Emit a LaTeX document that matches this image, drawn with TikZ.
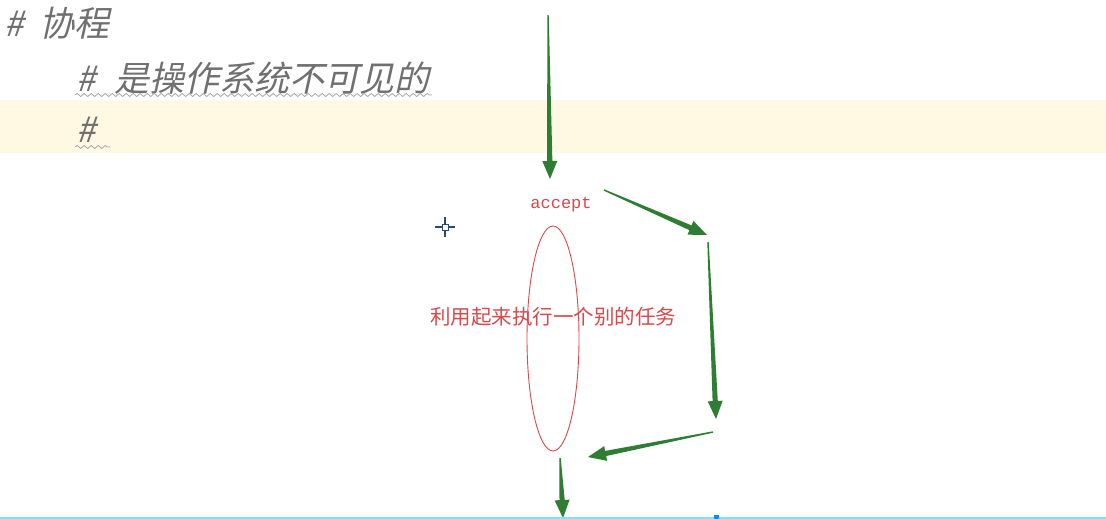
\documentclass[tikz,border=0pt]{standalone}
\usepackage{fontspec}
\usetikzlibrary{calc,decorations.pathmorphing,shapes.geometric}
\newfontfamily\cjk{Noto Sans CJK SC}
\newfontfamily\cjkslant[FakeSlant=0.22]{Noto Sans CJK SC}
\newfontfamily\monofnt{Liberation Mono}
\definecolor{arrgreen}{HTML}{2E7D32}
\definecolor{cmtgray}{HTML}{707070}
\definecolor{wavegray}{HTML}{A8A8A8}
\definecolor{bandyellow}{HTML}{FFF8E3}
\definecolor{inkred}{HTML}{D9484A}
\definecolor{cursorblue}{HTML}{2C4A6B}
\definecolor{lineblue}{HTML}{8ADDF2}
\definecolor{markblue}{HTML}{1E88E5}
\tikzset{
  comment/.style={text=cmtgray,font=\cjkslant\fontsize{35}{35}\selectfont,inner sep=0pt,anchor=west},
  wavy/.style={draw=wavegray,line width=0.8pt,decorate,decoration={snake,segment length=7pt,amplitude=1.5pt}},
  redtext/.style={text=inkred,inner sep=0pt},
  loop/.style={draw=inkred,line width=0.9pt},
  cursor/.style={draw=cursorblue,line width=1.3pt}
}
\newcommand\taper[2]{%
  \coordinate (tH) at ($(#2)!18pt!(#1)$);
  \fill[arrgreen] ($(#1)!0.7pt!90:(#2)$) -- ($(tH)!2.6pt!90:(#2)$) -- ($(tH)!7.5pt!90:(#2)$) -- (#2)
    -- ($(tH)!7.5pt!-90:(#2)$) -- ($(tH)!2.6pt!-90:(#2)$) -- ($(#1)!0.7pt!-90:(#2)$) -- cycle;}
\begin{document}
\begin{tikzpicture}[x=1pt,y=-1pt]
\useasboundingbox (0,0) rectangle (1106,519);
\fill[white] (0,0) rectangle (1106,519);
\fill[bandyellow] (0,100) rectangle (1106,153);
% comment lines
\node[comment] (l1) at (4,23) {\#\hspace{16pt}协程};
\node[comment] (l2) at (76,78) {\#\hspace{19pt}是操作系统不可见的};
\node[comment] (l3) at (76,130) {\#};
\draw[wavy] (75,95) -- (432,95);
\draw[wavy] (75,147) -- (110,147);
% labels
\node[redtext,font=\monofnt\fontsize{17}{17}\selectfont] (acc) at (561,205) {accept};
\node[loop,ellipse,draw,minimum width=52pt,minimum height=225pt,inner sep=0pt] (ell) at (553,338.5) {};
\node[redtext,font=\cjk\fontsize{20.5}{20.5}\selectfont] (task) at (553,317) {利用起来执行一个别的任务};
% arrow coordinates
\coordinate (a1s) at (548,15);  \coordinate (a1e) at (550,179);
\coordinate (a2s) at (604,190); \coordinate (a2e) at (707,235);
\coordinate (a3s) at (708,242); \coordinate (a3e) at (716,419);
\coordinate (a4s) at (713,432); \coordinate (a4e) at (588,457);
\coordinate (a5s) at (560,458); \coordinate (a5e) at (563,518);
\taper{a1s}{a1e}
\taper{a2s}{a2e}
\taper{a3s}{a3e}
\taper{a4s}{a4e}
\taper{a5s}{a5e}
% cursor
\coordinate (cur) at (445,227);
\draw[cursor] ($(cur)+(-10,0)$) -- ($(cur)+(-3,0)$) ($(cur)+(3,0)$) -- ($(cur)+(10,0)$)
  ($(cur)+(0,-10)$) -- ($(cur)+(0,-3)$) ($(cur)+(0,3)$) -- ($(cur)+(0,10)$);
\draw[cursor,line width=1pt] ($(cur)+(-3,-3)$) rectangle ($(cur)+(3,3)$);
% bottom line
\fill[lineblue] (0,516.5) rectangle (1106,519);
\fill[markblue] (714,514.5) rectangle (719,519);
\end{tikzpicture}
\end{document}
